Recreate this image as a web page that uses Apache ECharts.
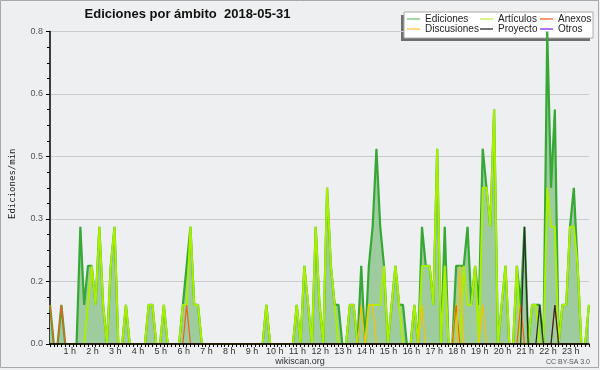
<!DOCTYPE html>
<html><head><meta charset="utf-8">
<script src="https://cdn.jsdelivr.net/npm/echarts@6/dist/echarts.min.js"></script>
<style>html,body{margin:0;padding:0;background:#eeeff0}#c{width:600px;height:370px}</style>
</head><body><div id="c"></div>
<script>
// 10-minute bins, edits per minute
const hourLabels = ['0 h','1 h','2 h','3 h','4 h','5 h','6 h','7 h','8 h','9 h','10 h','11 h','12 h','13 h','14 h','15 h','16 h','17 h','18 h','19 h','20 h','21 h','22 h','23 h'];
const yTicks = [0, 0.16, 0.32, 0.48, 0.64, 0.8];
const ediciones = [
0.1,0,0,0.1,0,0,0,0,0.3,0.1,
0.2,0.2,0.1,0.3,0.1,0,0.2,0.3,0,0,
0.1,0,0,0,0,0,0.1,0.1,0,0,
0.1,0,0,0,0,0.1,0.2,0.3,0.1,0.1,
0,0,0,0,0,0,0,0,0,0,
0,0,0,0,0,0,0,0.1,0,0,
0,0,0,0,0,0.1,0,0.2,0.1,0,
0.3,0.1,0,0.4,0.2,0.1,0.1,0,0,0.1,
0.1,0,0.2,0,0.2,0.3,0.5,0.3,0.2,0,
0.1,0.2,0.1,0.1,0,0,0.1,0,0.3,0.2,
0.2,0.1,0.5,0,0.3,0,0,0.2,0.2,0.2,
0.3,0.1,0.2,0.1,0.5,0.4,0.3,0.6,0,0.1,
0.2,0,0,0.2,0.1,0.3,0,0.1,0.1,0.1,
0,0.8,0.4,0.6,0,0.1,0.1,0.3,0.4,0.2,
0,0,0.1];
const articulos = [
0,0,0,0,0,0,0,0,0,0,
0.1,0.2,0.1,0.3,0.1,0,0.2,0.3,0,0,
0.1,0,0,0,0,0,0.1,0.1,0,0,
0.1,0,0,0,0,0.1,0.1,0.3,0.1,0.1,
0,0,0,0,0,0,0,0,0,0,
0,0,0,0,0,0,0,0.1,0,0,
0,0,0,0,0,0.1,0,0.2,0.1,0,
0.3,0.1,0,0.4,0.2,0.1,0,0,0,0.1,
0.1,0,0,0,0.1,0.1,0.1,0.1,0.2,0,
0.1,0.2,0.1,0,0,0,0.1,0,0.2,0.2,
0.2,0.1,0.5,0,0.2,0,0,0.1,0,0.2,
0.1,0.1,0.2,0,0.4,0.4,0.3,0.6,0,0.1,
0.2,0,0,0.2,0,0,0,0.1,0.1,0,
0,0.4,0.3,0.3,0,0.1,0.1,0.3,0.3,0.2,
0,0,0.1];
const anexos = [
0.1,0,0,0.1,0,0,0,0,0,0,
0,0,0,0,0,0,0,0,0,0,
0,0,0,0,0,0,0,0,0,0,
0,0,0,0,0,0,0.1,0,0,0,
0,0,0,0,0,0,0,0,0,0,
0,0,0,0,0,0,0,0,0,0,
0,0,0,0,0,0,0,0,0,0,
0,0,0,0,0,0,0,0,0,0,
0,0,0,0,0,0,0,0,0,0,
0,0,0,0,0,0,0,0,0,0,
0,0,0,0,0,0,0,0.1,0,0,
0,0,0,0,0,0,0,0,0,0,
0,0,0,0,0.1,0,0,0,0,0,
0,0,0,0.1,0,0,0,0,0,0,
0,0,0];
const discusiones = [
0,0,0,0,0,0,0,0,0,0,
0,0,0,0,0,0,0,0,0,0,
0,0,0,0,0,0,0,0,0,0,
0,0,0,0,0,0,0,0,0,0,
0,0,0,0,0,0,0,0,0,0,
0,0,0,0,0,0,0,0,0,0,
0,0,0,0,0,0,0,0,0,0,
0,0,0,0,0,0,0,0,0,0,
0,0,0.1,0,0.1,0.1,0,0,0,0,
0,0,0,0,0,0,0,0,0.1,0,
0,0,0,0,0,0,0,0,0.2,0,
0,0,0,0,0.1,0,0,0,0,0,
0,0,0,0,0,0,0,0,0,0,
0,0,0,0,0,0,0,0,0,0,
0,0,0];
const proyecto = [
0,0,0,0,0,0,0,0,0,0,
0,0,0,0,0,0,0,0,0,0,
0,0,0,0,0,0,0,0,0,0,
0,0,0,0,0,0,0,0,0,0,
0,0,0,0,0,0,0,0,0,0,
0,0,0,0,0,0,0,0,0,0,
0,0,0,0,0,0,0,0,0,0,
0,0,0,0,0,0,0,0,0,0,
0,0,0,0,0,0,0,0,0,0,
0,0,0,0,0,0,0,0,0,0,
0,0,0,0,0,0,0,0,0,0,
0,0,0,0,0,0,0,0,0,0,
0,0,0,0,0,0.3,0,0,0,0.1,
0,0,0,0.1,0,0,0,0,0,0,
0,0,0];
const otros = [
0,0,0,0,0,0,0,0,0,0,
0,0,0,0,0,0,0,0,0,0,
0,0,0,0,0,0,0,0,0,0,
0,0,0,0,0,0,0,0,0,0,
0,0,0,0,0,0,0,0,0,0,
0,0,0,0,0,0,0,0,0,0,
0,0,0,0,0,0,0,0,0,0,
0,0,0,0,0,0,0,0,0,0,
0,0,0,0,0,0,0,0,0,0,
0,0,0,0,0,0,0,0,0,0,
0,0,0,0,0,0,0,0,0,0,
0,0,0,0,0,0,0,0,0,0,
0,0,0,0,0,0,0,0,0,0,
0,0,0,0,0,0,0,0,0,0,
0,0,0];

const categories = ediciones.map((_, i) => {
  const h = Math.floor(i / 6), m = (i % 6) * 10;
  return String(h).padStart(2, '0') + ':' + String(m).padStart(2, '0');
});

const chart = echarts.init(document.getElementById('c'), null, {renderer: 'canvas'});
const legendText = {fontFamily: 'Liberation Sans', fontSize: 10, color: '#222', lineHeight: 10};
const legendBase = {orient: 'vertical', top: 14, itemWidth: 13, itemHeight: 1.5, icon: 'rect', itemGap: 0, selectedMode: false, textStyle: legendText, padding: 0};
const lineSeries = (name, data, color, width, z) => ({
  name, type: 'line', data, symbol: 'none', z,
  lineStyle: {color, width}, itemStyle: {color}, emphasis: {disabled: true}, animation: false
});

chart.setOption({
  animation: false,
  backgroundColor: '#eeeff0',
  grid: {left: 46.7, right: 11, top: 31.5, bottom: 26, containLabel: false},
  xAxis: {
    type: 'category', data: categories, boundaryGap: false, z: 5,
    axisLine: {lineStyle: {color: '#000', width: 1.5}},
    axisTick: {interval: 0, length: 3, lineStyle: {color: '#000'}},
    axisLabel: {
      interval: (idx) => idx % 6 === 0 && idx > 0,
      formatter: (v, idx) => hourLabels[idx / 6] || '',
      fontFamily: 'Liberation Sans', fontSize: 9, color: '#333', margin: 3, padding: [0, 6, 0, 0]
    },
    splitLine: {show: false}
  },
  yAxis: {
    type: 'value', min: yTicks[0], max: yTicks[yTicks.length - 1], interval: yTicks[1],
    name: 'Ediciones/min', nameLocation: 'middle', nameRotate: 90, nameGap: 33,
    nameTextStyle: {fontFamily: 'DejaVu Sans Mono', fontSize: 9, color: '#222', padding: [0, 0, 0, 8]},
    axisLine: {show: true, lineStyle: {color: '#000', width: 1.5}},
    axisTick: {show: true, length: 4, lineStyle: {color: '#000'}},
    minorTick: {show: true, splitNumber: 4, length: 3, lineStyle: {color: '#000'}},
    axisLabel: {formatter: (v) => v.toFixed(1), fontFamily: 'Liberation Sans', fontSize: 9, color: '#555', margin: 7},
    splitLine: {show: true, lineStyle: {color: '#cbcbcb', width: 1}}
  },
  legend: [
    Object.assign({}, legendBase, {left: 407, data: [{name: 'Ediciones', itemStyle: {color: '#8c8'}}, {name: 'Discusiones', itemStyle: {color: '#fc5'}}]}),
    Object.assign({}, legendBase, {left: 480, data: [{name: 'Artículos', itemStyle: {color: '#ce6'}}, {name: 'Proyecto', itemStyle: {color: '#444'}}]}),
    Object.assign({}, legendBase, {left: 540, data: [{name: 'Anexos', itemStyle: {color: '#f74'}}, {name: 'Otros', itemStyle: {color: '#94f'}}]})
  ],
  graphic: [
    {type: 'rect', z: 0, shape: {x: 401, y: 15, width: 189, height: 26}, style: {fill: '#6e6e6e'}},
    {type: 'rect', z: 1, shape: {x: 404, y: 12, width: 189, height: 26}, style: {fill: '#ffffff', stroke: '#aaaaaa', lineWidth: 1}},
    {type: 'text', x: 187.5, y: 14, style: {text: 'Ediciones por ámbito  2018-05-31', font: 'bold 13px "Liberation Sans"', fill: '#111', align: 'center', verticalAlign: 'middle'}},
    {type: 'text', x: 300, y: 361.5, style: {text: 'wikiscan.org', font: '9px "Liberation Sans"', fill: '#333', align: 'center', verticalAlign: 'middle'}},
    {type: 'text', x: 590, y: 362.5, style: {text: 'CC BY-SA 3.0', font: '7px "Liberation Sans"', fill: '#555', align: 'right', verticalAlign: 'middle'}},
    {type: 'rect', z: 10, shape: {x: 0.5, y: 0.5, width: 598, height: 367}, style: {fill: 'none', stroke: '#a8a8a8', lineWidth: 1}}
  ],
  series: [
    Object.assign(lineSeries('Ediciones', ediciones, '#35a835', 2.2, 2), {areaStyle: {color: '#9fcc9f', opacity: 1}}),
    lineSeries('Artículos', articulos, '#a8f000', 2, 3),
    lineSeries('Anexos', anexos, '#f0601a', 1.2, 4),
    lineSeries('Discusiones', discusiones, '#f5c400', 1.2, 4),
    lineSeries('Proyecto', proyecto, '#2a2a2a', 1.2, 4),
    lineSeries('Otros', otros, '#9944ee', 1, 1)
  ]
});
</script></body></html>
